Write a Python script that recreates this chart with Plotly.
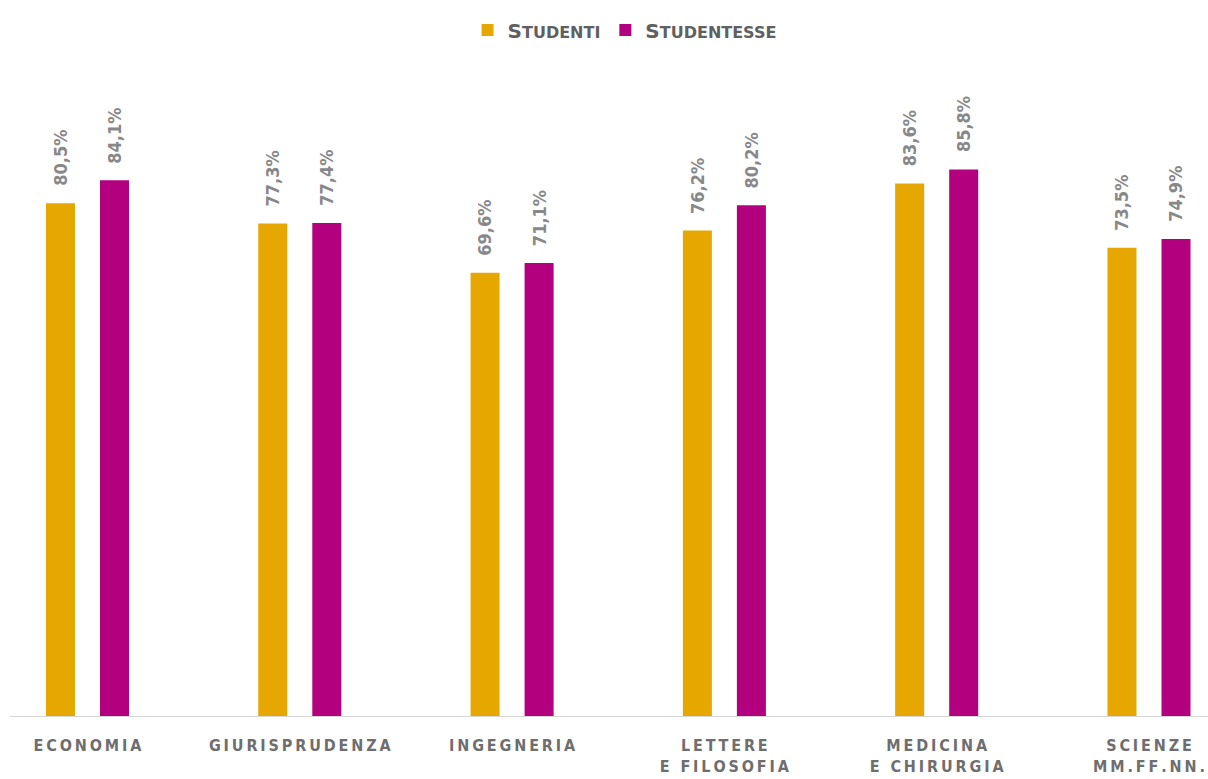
import plotly.graph_objects as go

# Percentuali per facoltà
facolta = ["ECONOMIA", "GIURISPRUDENZA", "INGEGNERIA",
           "LETTERE\nE FILOSOFIA", "MEDICINA\nE CHIRURGIA", "SCIENZE\nMM.FF.NN."]
studenti = [80.5, 77.3, 69.6, 76.2, 83.6, 73.5]
studentesse = [84.1, 77.4, 71.1, 80.2, 85.8, 74.9]
serie = ["Studenti", "Studentesse"]
colori = ["#E6A700", "#B3007F"]

TXT_GRAY = "#888888"
LABEL_FONT = "DejaVu Sans Condensed, DejaVu Sans, sans-serif"


def spaziato(s):
    """Tick label with tracking: thin spaces between letters, <br> between lines."""
    return "<br>".join("\u2009".join(riga) for riga in s.split("\n"))


def maiuscoletto(s):
    """Small-caps look: full-size initial, smaller uppercase for the rest."""
    return f"{s[0].upper()}<span style='font-size:16px'>{s[1:].upper()}</span>"


cats = list(range(len(facolta)))
fig = go.Figure()
for nome, valori, col in zip(serie, [studenti, studentesse], colori):
    fig.add_trace(go.Bar(
        x=cats, y=valori, name=maiuscoletto(nome), marker_color=col,
        marker_line_width=0,
    ))

# value labels, rotated, above each bar
for i, (nome, valori) in enumerate(zip(serie, [studenti, studentesse])):
    off = (-1 if i == 0 else 1) * 0.127
    for c, v in zip(cats, valori):
        fig.add_annotation(
            x=c + off, y=v, xref="x", yref="y",
            text=f"{v:.1f}%".replace(".", ","),
            textangle=-90, showarrow=False,
            yanchor="bottom", xanchor="center", yshift=15,
            font=dict(family=LABEL_FONT, size=18, color=TXT_GRAY, weight="bold"),
        )

fig.update_layout(
    width=1208, height=779,
    margin=dict(l=10, r=0, t=79, b=63),
    plot_bgcolor="white", paper_bgcolor="white",
    barmode="group", bargap=0.491, bargroupgap=0.463,
    showlegend=True,
    legend=dict(
        orientation="h", x=0.513, xanchor="center", y=1.077, yanchor="middle",
        font=dict(family="DejaVu Sans", size=20, color="#606060", weight="bold"),
        itemwidth=30, itemsizing="constant", traceorder="normal",
    ),
    xaxis=dict(
        tickmode="array", tickvals=cats, ticktext=[spaziato(f) for f in facolta],
        range=[-0.365, 5.278], showline=True, linecolor="#d6d6d6", linewidth=1,
        ticks="", showgrid=False, zeroline=False, ticklabelstandoff=15,
        tickfont=dict(family=LABEL_FONT, size=16, color="#6e6e6e", weight="bold"),
    ),
    yaxis=dict(range=[0, 100], visible=False, showgrid=False, zeroline=False),
)

fig.write_html("out.html")
